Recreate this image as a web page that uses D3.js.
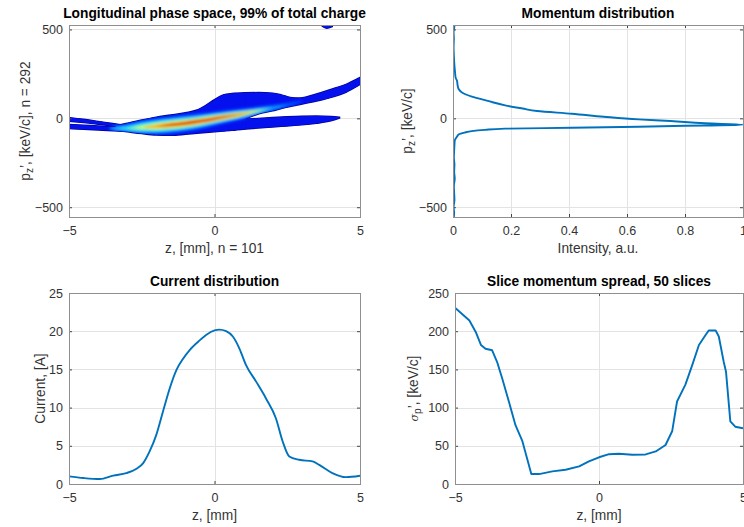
<!DOCTYPE html>
<html>
<head>
<meta charset="utf-8">
<script src="https://cdn.jsdelivr.net/npm/d3@7"></script>
<style>
    body { margin: 0; background: #fff; }
    text { font-family: "Liberation Sans", Arial, Helvetica, sans-serif; }
</style>
</head>
<body>
<script>
// ---------- Données ----------

// Espace des phases : enveloppe (z en mm, p en keV/c)
const tailAZ = [-5, -4.5, -4, -3.5, -3.2]
const tailATop = [4, -5, -17, -29, -36]
const tailABot = [-16, -24, -33, -42, -46]

const tailBZ = [-5, -4.5, -4, -3.5, -3.2]
const tailBTop = [-34, -38, -43, -47, -49]
const tailBBot = [-58, -62, -66, -70, -72]

const bodyZ = [-3.4, -3, -2.5, -2, -1.5, -1, -0.6, -0.3, 0, 0.3, 0.6, 1.05]
const bodyTop = [-42, -27, -9, 7, 19, 32, 47, 73, 105, 132, 140, 144]
const bodyBot = [-68, -76, -86, -94, -96, -90, -84, -80, -76, -72, -68, -60]

const bandZ = [1.05, 1.5, 2, 2.3, 2.6, 2.9, 3.3, 3.7, 4.1, 4.5, 5]
const bandTop = [144, 145, 142, 132, 118, 114, 127, 147, 168, 190, 230]
const bandBot = [-5, 24, 42, 55, 66, 76, 90, 104, 122, 145, 190]

const lowZ = [1.05, 1.5, 2, 2.5, 3, 3.5, 4, 4.3]
const lowTop = [-5, 0, 5, 9, 12, 13, 11, 6]
const lowBot = [-60, -55, -49, -43, -37, -28, -14, 2]

const dotZ = [3.7, 3.85, 4.05]
const dotTop = [535, 535, 535]
const dotBot = [518, 507, 516]

// Crête du coeur et demi-largeurs des niveaux d'intensité
const ridgeZ = [-3.6, -3, -2.5, -2, -1.5, -1, -0.5, 0, 0.5, 1, 1.5, 2, 2.5, 3]
const ridgeP = [-56, -56, -51, -45, -37, -28, -16, -2, 12, 26, 42, 58, 75, 95]
const levelColors = ['#0044ff', '#0a9cff', '#38f0e8', '#d8ff30', '#ffa000', '#dc1400']
const levelHw = [
    [12, 28, 40, 46, 48, 48, 45, 41, 36, 31, 25, 18, 12, 5],
    [2, 17, 30, 36, 38, 38, 35, 31, 27, 22, 16, 9, 2, 0],
    [0, 7, 20, 27, 29, 28, 26, 23, 19, 15, 8, 0, 0, 0],
    [0, 0, 8, 16, 19, 19, 18, 16, 14, 10, 3, 0, 0, 0],
    [0, 0, 0, 8, 12, 13, 12, 11, 8, 4, 0, 0, 0, 0],
    [0, 0, 0, 0, 6, 8, 8, 7, 5, 1, 0, 0, 0, 0]
]

// Distribution en impulsion
const momP = [-555, -530, -500, -460, -420, -380, -340, -300, -260, -220, -180, -150, -125, -112, -100,
    -90, -80, -72, -65, -58, -53, -47, -40, -36, -28, -15, -6, 9, 26, 41, 55, 73, 98, 122, 145,
    163, 185, 210, 229, 260, 295, 350, 400, 450, 485, 510, 530]
const momI = [0.003, 0.004, 0.002, 0.005, 0.004, 0.003, 0.006, 0.004, 0.005, 0.003, 0.004, 0.005, 0.006, 0.01, 0.015,
    0.02, 0.04, 0.065, 0.11, 0.18, 0.41, 0.64, 0.87, 1.0, 0.87, 0.75, 0.64, 0.52, 0.41, 0.29, 0.24, 0.18, 0.12, 0.065, 0.031,
    0.02, 0.016, 0.014, 0.009, 0.007, 0.005, 0.003, 0.002, 0.003, 0.002, 0.004, 0.006]

// Distribution du courant
const curZ = [-5, -4.5, -3.94, -3.48, -3.03, -2.68, -2.45, -2.23, -2.0, -1.77, -1.54, -1.31, -1.08, -0.86, -0.51,
    -0.29, 0, 0.17, 0.4, 0.63, 0.86, 1.08, 1.43, 1.77, 2.11, 2.34, 2.57, 2.91, 3.37, 3.6, 4.05, 4.51, 5]
const curI = [1.0, 0.78, 0.65, 1.1, 1.43, 2.0, 2.74, 4.26, 6.43, 9.48, 12.5, 14.9, 16.4, 17.5, 18.8,
    19.5, 20.1, 20.2, 20.0, 19.3, 17.7, 15.6, 13.4, 11.2, 8.6, 5.6, 3.6, 3.17, 2.96, 2.5, 1.43, 0.9, 1.09]

// Dispersion en impulsion par tranche
const spZ = [-4.98, -4.5, -4.28, -4.1, -3.94, -3.71, -3.54, -3.36, -3.13, -2.9, -2.66, -2.35, -2.08, -1.62, -1.16,
    -0.69, -0.35, 0, 0.35, 0.69, 1.16, 1.62, 1.97, 2.31, 2.54, 2.71, 3.0, 3.24, 3.47, 3.7, 3.81, 4.05, 4.16,
    4.33, 4.41, 4.56, 4.73, 5]
const spS = [230, 214, 199, 182, 177, 175, 160, 138, 108, 77, 56, 13, 13, 16.5, 18.7,
    23, 29.5, 35, 39, 39.6, 38.3, 38.7, 42.6, 51, 69, 108, 130, 156, 182, 195, 201, 201, 193,
    160, 147, 82, 75, 73]

// Graduations
const zTicks = [-5, 0, 5]
const pTicks = [-500, 0, 500]
const intTicks = [0, 0.2, 0.4, 0.6, 0.8, 1]
const curTicks = [0, 5, 10, 15, 20, 25]
const spTicks = [0, 50, 100, 150, 200, 250]

// ---------- Mise en page ----------
const width = 744, height = 527
const lineColor = '#0072bd'

const svg = d3.select('body').append('svg')
    .attr('width', width)
    .attr('height', height)

const defs = svg.append('defs')
defs.append('filter').attr('id', 'soft')
    .attr('x', '-20%').attr('y', '-50%').attr('width', '140%').attr('height', '200%')
    .append('feGaussianBlur').attr('stdDeviation', 1.4)

const panels = [
    { id: 'p1', left: 69, right: 360, top: 25, bottom: 217 },
    { id: 'p2', left: 453, right: 743, top: 25, bottom: 217 },
    { id: 'p3', left: 69, right: 360, top: 293, bottom: 484 },
    { id: 'p4', left: 455, right: 743, top: 293, bottom: 484 }
]

// Clip rectangulaire pour chaque panneau
panels.forEach(p => {
    defs.append('clipPath').attr('id', 'clip-' + p.id)
        .append('rect')
        .attr('x', p.left).attr('y', p.top)
        .attr('width', p.right - p.left).attr('height', p.bottom - p.top)
})

// Grille grise sous les données
const drawGrid = (p, x, y, xt, yt) => {
    const g = svg.append('g').attr('stroke', '#e3e3e3').attr('stroke-width', 1)
    g.selectAll('.gx').data(xt).join('line')
        .attr('x1', d => Math.round(x(d)) + 0.5).attr('x2', d => Math.round(x(d)) + 0.5)
        .attr('y1', p.top).attr('y2', p.bottom)
    g.selectAll('.gy').data(yt).join('line')
        .attr('y1', d => Math.round(y(d)) + 0.5).attr('y2', d => Math.round(y(d)) + 0.5)
        .attr('x1', p.left).attr('x2', p.right)
}

// Cadre, graduations et textes
const drawFrame = (p, x, y, xt, yt, xFmt, yFmt, labels) => {
    const axisStyle = g => {
        g.select('.domain').remove()
        g.selectAll('.tick line').attr('stroke', '#444')
        g.selectAll('.tick text')
            .attr('fill', '#333')
            .style('font-size', '12.5px')
            .style('font-family', '"Liberation Sans", Arial, sans-serif')
    }
    svg.append('g').attr('transform', `translate(0,${p.bottom})`)
        .call(d3.axisBottom(x).tickValues(xt).tickFormat(xFmt).tickSizeInner(-3).tickSizeOuter(0).tickPadding(9))
        .call(axisStyle)
    svg.append('g').attr('transform', `translate(0,${p.top})`)
        .call(d3.axisTop(x).tickValues(xt).tickFormat('').tickSizeInner(-3).tickSizeOuter(0))
        .call(axisStyle)
    svg.append('g').attr('transform', `translate(${p.left},0)`)
        .call(d3.axisLeft(y).tickValues(yt).tickFormat(yFmt).tickSizeInner(-3).tickSizeOuter(0).tickPadding(6))
        .call(axisStyle)
    svg.append('g').attr('transform', `translate(${p.right},0)`)
        .call(d3.axisRight(y).tickValues(yt).tickFormat('').tickSizeInner(-3).tickSizeOuter(0))
        .call(axisStyle)

    svg.append('rect')
        .attr('x', p.left + 0.5).attr('y', p.top + 0.5)
        .attr('width', p.right - p.left).attr('height', p.bottom - p.top)
        .attr('fill', 'none').attr('stroke', '#8f8f8f').attr('stroke-width', 1)

    const cx = (p.left + p.right) / 2
    svg.append('text')
        .attr('x', cx).attr('y', p.top - 7)
        .attr('text-anchor', 'middle')
        .style('font-size', '13.75px').style('font-weight', 'bold')
        .attr('fill', '#000')
        .text(labels.title)
    svg.append('text')
        .attr('x', cx).attr('y', p.bottom + 36)
        .attr('text-anchor', 'middle')
        .style('font-size', '13.75px')
        .attr('fill', '#333')
        .text(labels.x)
    const yl = svg.append('text')
        .attr('transform', `translate(${labels.yx},${(p.top + p.bottom) / 2}) rotate(-90)`)
        .attr('text-anchor', 'middle')
        .style('font-size', '13.75px')
        .attr('fill', '#333')
    labels.y(yl)
}

const fmtNum = d3.format('')
const fmtInt = d => d === 0 ? '0' : d === 1 ? '1' : d3.format('.1f')(d)

const zip = (zs, tops, bots) => zs.map((z, i) => ({ z: z, top: tops[i], bot: bots[i] }))

/**---------------------------------------------
 * Panneau 1 - espace des phases longitudinal
 *--------------------------------------------*/
const p1 = panels[0]
const x1 = d3.scaleLinear().domain([-5, 5]).range([p1.left, p1.right])
const y1 = d3.scaleLinear().domain([-555, 525]).range([p1.bottom, p1.top])
drawGrid(p1, x1, y1, zTicks, pTicks)

const area1 = d3.area()
    .x(d => x1(d.z))
    .y0(d => y1(d.bot))
    .y1(d => y1(d.top))
    .curve(d3.curveMonotoneX)

const pieces = [
    zip(tailAZ, tailATop, tailABot),
    zip(tailBZ, tailBTop, tailBBot),
    zip(bodyZ, bodyTop, bodyBot),
    zip(bandZ, bandTop, bandBot),
    zip(lowZ, lowTop, lowBot),
    zip(dotZ, dotTop, dotBot)
]

// Clip de l'enveloppe pour les niveaux intérieurs
const envClip = defs.append('clipPath').attr('id', 'env-clip')
envClip.selectAll('path').data(pieces).join('path').attr('d', area1)

const ps = svg.append('g').attr('clip-path', 'url(#clip-p1)')

// Bord foncé puis remplissage bleu
ps.append('g').selectAll('path').data(pieces).join('path')
    .attr('d', area1)
    .attr('fill', '#00058f')
    .attr('stroke', '#00058f')
    .attr('stroke-width', 1.4)
ps.append('g').selectAll('path').data(pieces).join('path')
    .attr('d', area1)
    .attr('fill', '#0410ee')

// Niveaux d'intensité autour de la crête
const core = ps.append('g').attr('clip-path', 'url(#env-clip)')
    .append('g').attr('filter', 'url(#soft)')
core.selectAll('path')
    .data(levelHw.map((hw, k) => ({ color: levelColors[k], pts: ridgeZ.map((z, i) => ({ z: z, top: ridgeP[i] + hw[i], bot: ridgeP[i] - hw[i] })) })))
    .join('path')
    .attr('d', d => area1(d.pts))
    .attr('fill', d => d.color)

drawFrame(p1, x1, y1, zTicks, pTicks, fmtNum, fmtNum, {
    title: 'Longitudinal phase space, 99% of total charge',
    x: 'z, [mm], n = 101',
    yx: 30,
    y: t => {
        t.append('tspan').text('p')
        t.append('tspan').attr('dy', 3).style('font-size', '10px').text('z')
        t.append('tspan').attr('dy', -3).text('\u2019, [keV/c], n = 292')
    }
})

/**---------------------------------------------
 * Panneau 2 - distribution en impulsion
 *--------------------------------------------*/
const p2 = panels[1]
const x2 = d3.scaleLinear().domain([0, 1]).range([p2.left, p2.right])
const y2 = d3.scaleLinear().domain([-555, 525]).range([p2.bottom, p2.top])
drawGrid(p2, x2, y2, intTicks, pTicks)

svg.append('path')
    .datum(momP.map((p, i) => ({ p: p, v: momI[i] })))
    .attr('clip-path', 'url(#clip-p2)')
    .attr('d', d3.line().x(d => x2(d.v)).y(d => y2(d.p)).curve(d3.curveMonotoneY))
    .attr('fill', 'none')
    .attr('stroke', lineColor)
    .attr('stroke-width', 1.9)

drawFrame(p2, x2, y2, intTicks, pTicks, fmtInt, fmtNum, {
    title: 'Momentum distribution',
    x: 'Intensity, a.u.',
    yx: 412,
    y: t => {
        t.append('tspan').text('p')
        t.append('tspan').attr('dy', 3).style('font-size', '10px').text('z')
        t.append('tspan').attr('dy', -3).text('\u2019, [keV/c]')
    }
})

/**---------------------------------------------
 * Panneau 3 - distribution du courant
 *--------------------------------------------*/
const p3 = panels[2]
const x3 = d3.scaleLinear().domain([-5, 5]).range([p3.left, p3.right])
const y3 = d3.scaleLinear().domain([0, 25]).range([p3.bottom, p3.top])
drawGrid(p3, x3, y3, zTicks, curTicks)

svg.append('path')
    .datum(curZ.map((z, i) => ({ z: z, v: curI[i] })))
    .attr('clip-path', 'url(#clip-p3)')
    .attr('d', d3.line().x(d => x3(d.z)).y(d => y3(d.v)).curve(d3.curveMonotoneX))
    .attr('fill', 'none')
    .attr('stroke', lineColor)
    .attr('stroke-width', 1.9)

drawFrame(p3, x3, y3, zTicks, curTicks, fmtNum, fmtNum, {
    title: 'Current distribution',
    x: 'z, [mm]',
    yx: 45,
    y: t => t.text('Current, [A]')
})

/**---------------------------------------------
 * Panneau 4 - dispersion par tranche
 *--------------------------------------------*/
const p4 = panels[3]
const x4 = d3.scaleLinear().domain([-5, 5]).range([p4.left, p4.right])
const y4 = d3.scaleLinear().domain([0, 250]).range([p4.bottom, p4.top])
drawGrid(p4, x4, y4, zTicks, spTicks)

svg.append('path')
    .datum(spZ.map((z, i) => ({ z: z, v: spS[i] })))
    .attr('clip-path', 'url(#clip-p4)')
    .attr('d', d3.line().x(d => x4(d.z)).y(d => y4(d.v)))
    .attr('fill', 'none')
    .attr('stroke', lineColor)
    .attr('stroke-width', 1.9)
    .attr('stroke-linejoin', 'round')

drawFrame(p4, x4, y4, zTicks, spTicks, fmtNum, fmtNum, {
    title: 'Slice momentum spread, 50 slices',
    x: 'z, [mm]',
    yx: 418,
    y: t => {
        t.append('tspan').style('font-style', 'italic').style('font-size', '11px').attr('font-family', 'DejaVu Serif, serif').text('\u03c3')
        t.append('tspan').attr('dy', 3).style('font-size', '10px').text('p')
        t.append('tspan').attr('dy', -3).text('\u2019, [keV/c]')
    }
})
</script>
</body>
</html>
